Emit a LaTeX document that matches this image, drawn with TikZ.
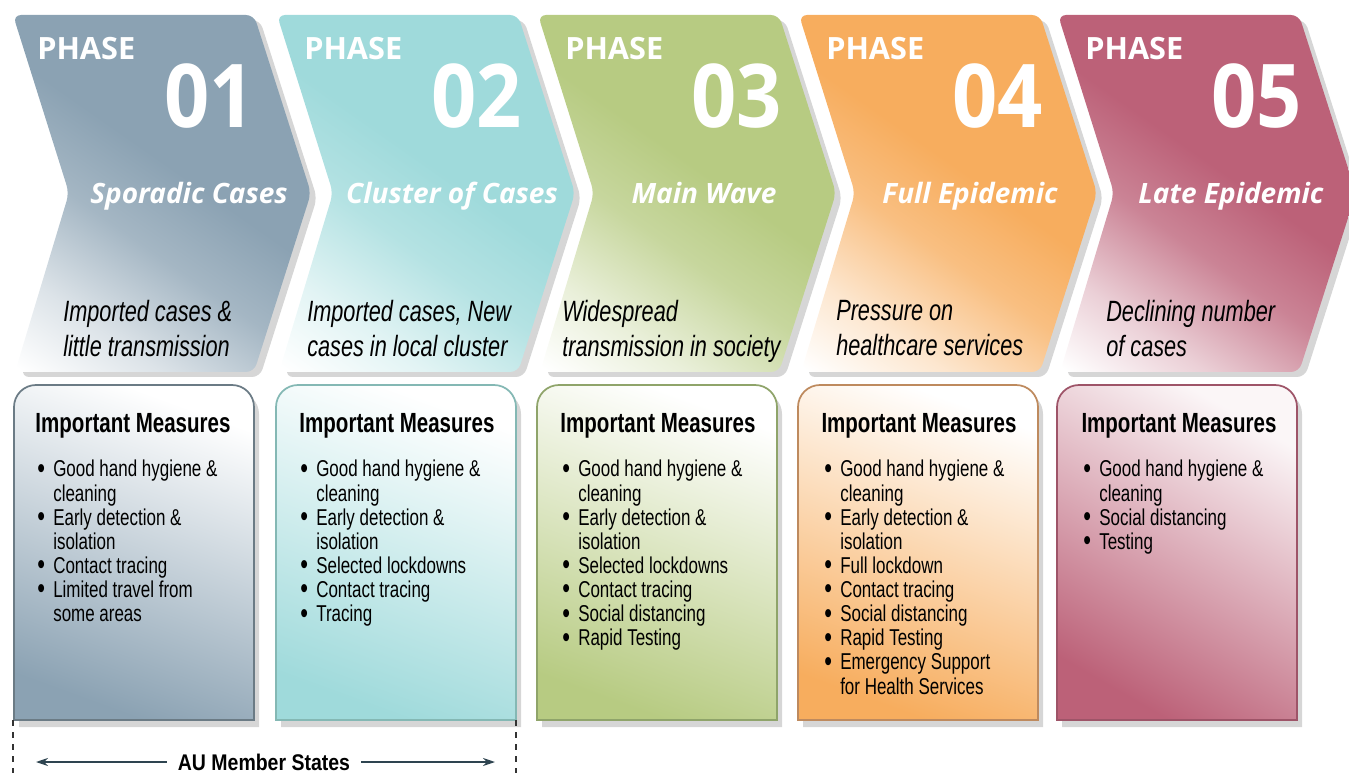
\documentclass[tikz,border=0pt]{standalone}
\usepackage{fontspec}
\setmainfont{Liberation Sans}
\newfontfamily\phasefont{Open Sans}
\newfontfamily\numfont[FakeStretch=0.9]{Open Sans}
\newfontfamily\narrowfont[FakeStretch=0.74]{Liberation Sans}
\newfontfamily\labelfont[FakeStretch=0.86]{Liberation Sans}
\usetikzlibrary{arrows.meta}

\definecolor{phA}{HTML}{8BA2B3}
\definecolor{phB}{HTML}{9FDADB}
\definecolor{phC}{HTML}{B7CB82}
\definecolor{phD}{HTML}{F7AD5E}
\definecolor{phE}{HTML}{BC6178}
\definecolor{lnA}{HTML}{6B7B85}
\definecolor{lnB}{HTML}{84B8B4}
\definecolor{lnC}{HTML}{8FA46A}
\definecolor{lnD}{HTML}{BE8A5E}
\definecolor{lnE}{HTML}{9E5468}
\definecolor{arrowc}{HTML}{2E4450}
\colorlet{phcol}{white}

% white in the lower left corner, full colour from the middle up
\pgfdeclareverticalshading[phcol]{phasefade}{100bp}{color(0bp)=(white); color(16bp)=(white); color(28bp)=(phcol!30!white); color(42bp)=(phcol!78!white); color(54bp)=(phcol); color(100bp)=(phcol)}

\newcommand\mitem{\makebox[12pt][l]{\raisebox{-1pt}{\scalebox{1.3}{\textbullet}}}}
\newcommand\mcont{\makebox[12pt]{}}

\tikzset{
  chevron/.style={rounded corners=6pt, /utils/exec={\colorlet{phcol}{#1}}, shading=phasefade, shading angle=-35},
  chevshade/.style={fill=black, opacity=0.16, rounded corners=6pt, shift={(6,5)}},
  boxshape/.style={line width=1.3pt, top color=white, bottom color=#1, shading angle=-20},
  boxshade/.style={fill=black, opacity=0.16, shift={(5,7)}},
  phasehead/.style={anchor=base west, inner sep=0pt, text=white, font=\phasefont\bfseries\fontsize{23}{27}\selectfont},
  phasenum/.style={anchor=base east, inner sep=0pt, text=white, font=\numfont\bfseries\fontsize{66}{70}\selectfont},
  phasetitle/.style={anchor=base, inner sep=0pt, text=white, font=\phasefont\bfseries\itshape\fontsize{21}{25}\selectfont},
  phasedesc/.style={anchor=north west, inner sep=0pt, align=left, font=\narrowfont\itshape\fontsize{22}{26}\selectfont},
  meashead/.style={anchor=base, inner sep=0pt, font=\narrowfont\bfseries\fontsize{20.8}{24}\selectfont},
  measlist/.style={anchor=north west, inner sep=0pt, align=left, font=\narrowfont\fontsize{17.2}{18.1}\selectfont},
  aulabel/.style={inner sep=0pt, inner xsep=8pt, font=\labelfont\bfseries\fontsize{17}{20}\selectfont},
  auarrow/.style={-{Stealth[length=9pt, width=6pt]}, line width=1.3pt, color=arrowc},
  audash/.style={line width=1.5pt, dash pattern=on 4.5pt off 4.5pt, color=black!80}
}

\begin{document}
\begin{tikzpicture}[x=0.75pt,y=0.75pt,yscale=-1,xscale=1]
\useasboundingbox (0,0) rectangle (1349,773);

%Shape: Chevron [phase 01]
\fill[chevshade] (13,15) -- (254,15) -- (311,193) -- (254,372) -- (15,372) -- (69,193) -- cycle ;
\shade[chevron=phA] (13,15) -- (254,15) -- (311,193) -- (254,372) -- (15,372) -- (69,193) -- cycle ;
%Shape: Chevron [phase 02]
\fill[chevshade] (277,15) -- (518,15) -- (575,193) -- (518,372) -- (279,372) -- (333,193) -- cycle ;
\shade[chevron=phB] (277,15) -- (518,15) -- (575,193) -- (518,372) -- (279,372) -- (333,193) -- cycle ;
%Shape: Chevron [phase 03]
\fill[chevshade] (538,15) -- (779,15) -- (836,193) -- (779,372) -- (540,372) -- (594,193) -- cycle ;
\shade[chevron=phC] (538,15) -- (779,15) -- (836,193) -- (779,372) -- (540,372) -- (594,193) -- cycle ;
%Shape: Chevron [phase 04]
\fill[chevshade] (799,15) -- (1040,15) -- (1097,193) -- (1040,372) -- (801,372) -- (855,193) -- cycle ;
\shade[chevron=phD] (799,15) -- (1040,15) -- (1097,193) -- (1040,372) -- (801,372) -- (855,193) -- cycle ;
%Shape: Chevron [phase 05]
\fill[chevshade] (1058,15) -- (1299,15) -- (1356,193) -- (1299,372) -- (1060,372) -- (1114,193) -- cycle ;
\shade[chevron=phE] (1058,15) -- (1299,15) -- (1356,193) -- (1299,372) -- (1060,372) -- (1114,193) -- cycle ;

%Shape: Measures box [phase 01]
\fill[boxshade] (14,720) -- (14,407) arc[start angle=180, end angle=270, radius=22] -- (232,385) arc[start angle=270, end angle=360, radius=22] -- (254,720) -- cycle ;
\shade[boxshape=phA, draw=lnA] (14,720) -- (14,407) arc[start angle=180, end angle=270, radius=22] -- (232,385) arc[start angle=270, end angle=360, radius=22] -- (254,720) -- cycle ;
%Shape: Measures box [phase 02]
\fill[boxshade] (276,720) -- (276,407) arc[start angle=180, end angle=270, radius=22] -- (494,385) arc[start angle=270, end angle=360, radius=22] -- (516,720) -- cycle ;
\shade[boxshape=phB, draw=lnB] (276,720) -- (276,407) arc[start angle=180, end angle=270, radius=22] -- (494,385) arc[start angle=270, end angle=360, radius=22] -- (516,720) -- cycle ;
%Shape: Measures box [phase 03]
\fill[boxshade] (537,720) -- (537,407) arc[start angle=180, end angle=270, radius=22] -- (755,385) arc[start angle=270, end angle=360, radius=22] -- (777,720) -- cycle ;
\shade[boxshape=phC, draw=lnC] (537,720) -- (537,407) arc[start angle=180, end angle=270, radius=22] -- (755,385) arc[start angle=270, end angle=360, radius=22] -- (777,720) -- cycle ;
%Shape: Measures box [phase 04]
\fill[boxshade] (798,720) -- (798,407) arc[start angle=180, end angle=270, radius=22] -- (1016,385) arc[start angle=270, end angle=360, radius=22] -- (1038,720) -- cycle ;
\shade[boxshape=phD, draw=lnD] (798,720) -- (798,407) arc[start angle=180, end angle=270, radius=22] -- (1016,385) arc[start angle=270, end angle=360, radius=22] -- (1038,720) -- cycle ;
%Shape: Measures box [phase 05]
\fill[boxshade] (1057,720) -- (1057,407) arc[start angle=180, end angle=270, radius=22] -- (1275,385) arc[start angle=270, end angle=360, radius=22] -- (1297,720) -- cycle ;
\shade[boxshape=phE, draw=lnE, top color=phE!6, bottom color=phE, shading angle=-30] (1057,720) -- (1057,407) arc[start angle=180, end angle=270, radius=22] -- (1275,385) arc[start angle=270, end angle=360, radius=22] -- (1297,720) -- cycle ;

% Text Node
\node[phasehead] (p1) at (37,60) {PHASE};
\node[phasenum] (n1) at (255,128) {01};
\node[phasetitle] (t1) at (189,204) {Sporadic Cases};
\node[phasedesc] (d1) at (63,300) {Imported cases \&\\little transmission};
% Text Node
\node[phasehead] (p2) at (304,60) {PHASE};
\node[phasenum] (n2) at (522,128) {02};
\node[phasetitle] (t2) at (452,204) {Cluster of Cases};
\node[phasedesc] (d2) at (307,300) {Imported cases, New\\cases in local cluster};
% Text Node
\node[phasehead] (p3) at (565,60) {PHASE};
\node[phasenum] (n3) at (782,128) {03};
\node[phasetitle] (t3) at (704,204) {Main Wave};
\node[phasedesc] (d3) at (562,300) {Widespread\\transmission in society};
% Text Node
\node[phasehead] (p4) at (826,60) {PHASE};
\node[phasenum] (n4) at (1043,128) {04};
\node[phasetitle] (t4) at (970,204) {Full Epidemic};
\node[phasedesc] (d4) at (836,300) {Pressure on\\healthcare services};
% Text Node
\node[phasehead] (p5) at (1085,60) {PHASE};
\node[phasenum] (n5) at (1302,128) {05};
\node[phasetitle] (t5) at (1231,204) {Late Epidemic};
\node[phasedesc] (d5) at (1106,300) {Declining number\\of cases};

% Text Node
\node[meashead] (h1) at (133,432) {Important Measures};
\node[measlist] (m1) at (37,460) {\mitem Good hand hygiene \&\\\mcont cleaning\\\mitem Early detection \&\\\mcont isolation\\\mitem Contact tracing\\\mitem Limited travel from\\\mcont some areas};
% Text Node
\node[meashead] (h2) at (397,432) {Important Measures};
\node[measlist] (m2) at (300,460) {\mitem Good hand hygiene \&\\\mcont cleaning\\\mitem Early detection \&\\\mcont isolation\\\mitem Selected lockdowns\\\mitem Contact tracing\\\mitem Tracing};
% Text Node
\node[meashead] (h3) at (658,432) {Important Measures};
\node[measlist] (m3) at (562,460) {\mitem Good hand hygiene \&\\\mcont cleaning\\\mitem Early detection \&\\\mcont isolation\\\mitem Selected lockdowns\\\mitem Contact tracing\\\mitem Social distancing\\\mitem Rapid Testing};
% Text Node
\node[meashead] (h4) at (919,432) {Important Measures};
\node[measlist] (m4) at (824,460) {\mitem Good hand hygiene \&\\\mcont cleaning\\\mitem Early detection \&\\\mcont isolation\\\mitem Full lockdown\\\mitem Contact tracing\\\mitem Social distancing\\\mitem Rapid Testing\\\mitem Emergency Support\\\mcont for Health Services};
% Text Node
\node[meashead] (h5) at (1179,432) {Important Measures};
\node[measlist] (m5) at (1083,460) {\mitem Good hand hygiene \&\\\mcont cleaning\\\mitem Social distancing\\\mitem Testing};

%AU member states span
\coordinate (dashL1) at (13,720);
\coordinate (dashL2) at (13,773);
\coordinate (dashR1) at (516,720);
\coordinate (dashR2) at (516,773);
\draw[audash] (dashL1) -- (dashL2) ;
\draw[audash] (dashR1) -- (dashR2) ;
\node[aulabel] (au) at (264,762) {AU Member States};
\coordinate (auL) at (36,762);
\coordinate (auR) at (495,762);
\draw[auarrow] (au) -- (auL) ;
\draw[auarrow] (au) -- (auR) ;

\end{tikzpicture}
\end{document}
